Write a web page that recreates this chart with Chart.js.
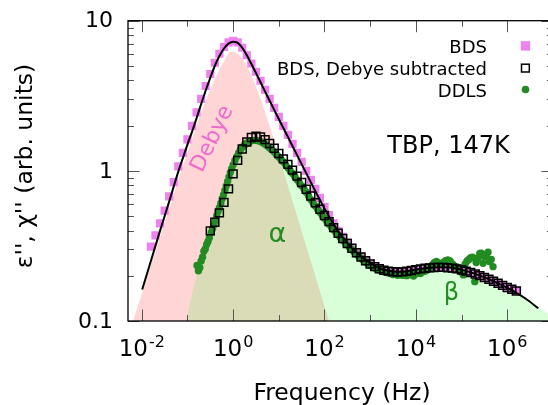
<!DOCTYPE html>
<html lang="en">
<head>
<meta charset="UTF-8" />
<title>TBP, 147K</title>
<script src="https://cdn.jsdelivr.net/npm/chart.js"></script>
<style>
  html, body { margin: 0; padding: 0; background: #fff; overflow: hidden; width: 548px; height: 405px; }
  canvas { display: block; }
</style>
</head>
<body>
<canvas id="c" width="560" height="405"></canvas>
<script>
// values, stored as log10(frequency) and log10(loss)
const bdsLogF = [-1.8, -1.7, -1.6, -1.5, -1.4, -1.3, -1.2, -1.1, -1.0, -0.9,
  -0.8, -0.7, -0.6, -0.5, -0.4, -0.3, -0.2, -0.1, 0.0, 0.1,
  0.2, 0.3, 0.4, 0.5, 0.6, 0.7, 0.8, 0.9, 1.0, 1.1,
  1.2, 1.3, 1.4, 1.5, 1.6, 1.7, 1.8, 1.9, 2.0, 2.1,
  2.2, 2.3, 2.4, 2.5, 2.6, 2.7, 2.8, 2.9, 3.0, 3.1,
  3.2, 3.3, 3.4, 3.5, 3.6, 3.7, 3.8, 3.9, 4.0, 4.1,
  4.2, 4.3, 4.4, 4.5, 4.6, 4.7, 4.8, 4.9, 5.0, 5.1,
  5.2, 5.3, 5.4, 5.5, 5.6, 5.7, 5.8, 5.9, 6.0, 6.1, 6.2];
const bdsLogE = [-0.505, -0.43, -0.35, -0.265, -0.17, -0.075, 0.03, 0.12, 0.21, 0.30,
  0.39, 0.48, 0.565, 0.645, 0.72, 0.78, 0.825, 0.855, 0.865, 0.855,
  0.82, 0.77, 0.715, 0.66, 0.6, 0.54, 0.48, 0.42, 0.36, 0.30,
  0.24, 0.18, 0.12, 0.06, 0.0, -0.06, -0.12, -0.18, -0.24, -0.295,
  -0.35, -0.40, -0.44, -0.477, -0.512, -0.543, -0.572, -0.598, -0.62, -0.638,
  -0.652, -0.662, -0.668, -0.672, -0.674, -0.673, -0.669, -0.664, -0.658, -0.653,
  -0.649, -0.646, -0.644, -0.643, -0.643, -0.645, -0.648, -0.653, -0.66, -0.668,
  -0.677, -0.687, -0.698, -0.71, -0.722, -0.735, -0.749, -0.763, -0.777, -0.789, -0.80];

const subLogF = [-0.5, -0.4, -0.3, -0.2, -0.1, 0.0, 0.1, 0.2, 0.3, 0.4,
  0.5, 0.6, 0.7, 0.8, 0.9, 1.0, 1.1, 1.2, 1.3, 1.4,
  1.5, 1.6, 1.7, 1.8, 1.9, 2.0, 2.1, 2.2, 2.3, 2.4,
  2.5, 2.6, 2.7, 2.8, 2.9, 3.0, 3.1, 3.2, 3.3, 3.4,
  3.5, 3.6, 3.7, 3.8, 3.9, 4.0, 4.1, 4.2, 4.3, 4.4,
  4.5, 4.6, 4.7, 4.8, 4.9, 5.0, 5.1, 5.2, 5.3, 5.4,
  5.5, 5.6, 5.7, 5.8, 5.9, 6.0, 6.1, 6.2];
const subLogE = [-0.40, -0.342, -0.28, -0.21, -0.12, -0.02, 0.07, 0.145, 0.192, 0.222,
  0.23, 0.225, 0.208, 0.182, 0.15, 0.115, 0.08, 0.043, 0.005, -0.035,
  -0.078, -0.122, -0.168, -0.213, -0.256, -0.297, -0.338, -0.378, -0.416, -0.451,
  -0.484, -0.516, -0.546, -0.574, -0.599, -0.62, -0.638, -0.652, -0.662, -0.668,
  -0.672, -0.674, -0.673, -0.669, -0.664, -0.658, -0.653, -0.649, -0.646, -0.644,
  -0.643, -0.643, -0.645, -0.648, -0.653, -0.66, -0.668, -0.677, -0.687, -0.698,
  -0.71, -0.722, -0.735, -0.749, -0.763, -0.777, -0.789, -0.80];

const ddlsLogF = [-0.79, -0.76, -0.73, -0.70, -0.67, -0.64, -0.61, -0.58, -0.55, -0.52,
  -0.48, -0.45, -0.42, -0.39, -0.36, -0.33, -0.30, -0.27, -0.24, -0.21,
  -0.18, -0.15, -0.12, -0.09, -0.06, -0.03, 0.00, 0.04, 0.08, 0.12,
  0.16, 0.20, 0.25, 0.30, 0.35, 0.40, 0.45, 0.50, 0.55, 0.60,
  0.65, 0.70, 0.75, 0.80, 0.85, 0.90, 0.95, 1.00, 1.05, 1.10,
  1.15, 1.20, 1.25, 1.30, 1.35, 1.40, 1.45, 1.50, 1.55, 1.60,
  1.65, 1.70, 1.75, 1.80, 1.85, 1.90, 1.95, 2.00, 2.05, 2.10,
  2.15, 2.20, 2.25, 2.30, 2.35, 2.40, 2.45, 2.50, 2.55, 2.60,
  2.65, 2.70, 2.75, 2.80, 2.85, 2.90, 2.95, 3.00, 3.05, 3.10,
  3.15, 3.20, 3.25, 3.30, 3.35, 3.40, 3.45, 3.50, 3.55, 3.60,
  3.65, 3.70, 3.75, 3.80, 3.85, 3.90, 3.95, 4.00, 4.05, 4.10,
  4.15, 4.20, 4.25, 4.30, 4.35, 4.40, 4.45, 4.50, 4.55, 4.60,
  4.65, 4.70, 4.75, 4.80, 4.85, 4.90, 4.95, 5.00, 5.04, 5.08,
  5.12, 5.16, 5.20, 5.24, 5.29, 5.32, 5.36, 5.40, 5.43, 5.47,
  5.50, 5.54, 5.58, 5.61, 5.65, 5.69];
const ddlsLogE = [-0.63, -0.665, -0.645, -0.60, -0.575, -0.535, -0.52, -0.49, -0.47, -0.445,
  -0.41, -0.385, -0.36, -0.33, -0.30, -0.27, -0.245, -0.215, -0.185, -0.16,
  -0.13, -0.10, -0.07, -0.04, -0.01, 0.015, 0.04, 0.07, 0.095, 0.12,
  0.14, 0.158, 0.172, 0.185, 0.193, 0.20, 0.203, 0.203, 0.20, 0.195,
  0.187, 0.177, 0.165, 0.152, 0.14, 0.125, 0.108, 0.092, 0.075, 0.06,
  0.04, 0.02, 0.0, -0.018, -0.038, -0.06, -0.08, -0.10, -0.12, -0.143,
  -0.166, -0.19, -0.212, -0.234, -0.255, -0.275, -0.295, -0.315, -0.335, -0.355,
  -0.374, -0.393, -0.41, -0.428, -0.445, -0.462, -0.478, -0.494, -0.51, -0.525,
  -0.54, -0.555, -0.568, -0.582, -0.595, -0.607, -0.618, -0.628, -0.638, -0.647,
  -0.655, -0.662, -0.668, -0.672, -0.676, -0.68, -0.684, -0.69, -0.688, -0.695,
  -0.69, -0.695, -0.69, -0.698, -0.688, -0.692, -0.70, -0.685, -0.68, -0.684,
  -0.672, -0.668, -0.66, -0.645, -0.63, -0.612, -0.604, -0.615, -0.622, -0.61,
  -0.598, -0.593, -0.60, -0.62, -0.635, -0.64, -0.66, -0.675, -0.693, -0.62,
  -0.60, -0.59, -0.578, -0.575, -0.738, -0.61, -0.58, -0.55, -0.548, -0.615,
  -0.57, -0.56, -0.542, -0.604, -0.59, -0.638];

// total fit curve (black line)
const fitLogF = [-1.99, -1.8, -1.6, -1.4, -1.2, -1.1, -1.0, -0.9, -0.8, -0.7,
  -0.6, -0.5, -0.4, -0.3, -0.2, -0.1, 0.0, 0.1, 0.2, 0.3,
  0.4, 0.5, 0.6, 0.7, 0.8, 0.9, 1.0, 1.2, 1.4, 1.6,
  1.8, 2.0, 2.2, 2.4, 2.6, 2.8, 3.0, 3.2, 3.4, 3.6,
  3.8, 4.0, 4.2, 4.4, 4.6, 4.8, 5.0, 5.2, 5.4, 5.6,
  5.8, 6.0, 6.2, 6.4, 6.68];
const fitLogE = [-0.79, -0.60, -0.40, -0.205, -0.005, 0.085, 0.175, 0.26, 0.35, 0.445,
  0.535, 0.62, 0.70, 0.765, 0.815, 0.848, 0.86, 0.852, 0.82, 0.77,
  0.712, 0.652, 0.59, 0.528, 0.467, 0.406, 0.345, 0.225, 0.105, -0.015,
  -0.135, -0.25, -0.355, -0.445, -0.515, -0.57, -0.615, -0.648, -0.665, -0.672,
  -0.668, -0.657, -0.648, -0.643, -0.642, -0.646, -0.658, -0.676, -0.698, -0.722,
  -0.75, -0.78, -0.812, -0.85, -0.915];

// Debye contribution (pink area)
const debyeLogF = [-2.19, -2.0, -1.8, -1.6, -1.4, -1.2, -1.0, -0.8, -0.6, -0.4,
  -0.2, -0.05, 0.1, 0.3, 0.5, 0.7, 0.9, 1.1, 1.3, 1.5, 1.7, 1.9, 2.0, 2.1];
const debyeLogE = [-1.0, -0.82, -0.63, -0.44, -0.25, -0.06, 0.12, 0.30, 0.465, 0.61,
  0.73, 0.795, 0.78, 0.70, 0.56, 0.39, 0.20, 0.0, -0.2, -0.4, -0.6, -0.8, -0.9, -1.0];

// alpha + beta contribution (green area)
const abLogF = [-1.03, -0.9, -0.8, -0.7, -0.6, -0.5, -0.4, -0.3, -0.2, -0.1,
  0.0, 0.1, 0.2, 0.3, 0.4, 0.5, 0.6, 0.7, 0.8, 0.9,
  1.0, 1.2, 1.4, 1.6, 1.8, 2.0, 2.2, 2.4, 2.6, 2.8,
  3.0, 3.2, 3.4, 3.6, 3.8, 4.0, 4.2, 4.4, 4.6, 4.8,
  5.0, 5.2, 5.4, 5.6, 5.8, 6.0, 6.2, 6.4, 6.6, 6.8, 7.0];
const abLogE = [-1.0, -0.82, -0.70, -0.60, -0.51, -0.43, -0.355, -0.28, -0.20, -0.12,
  -0.035, 0.05, 0.12, 0.165, 0.19, 0.197, 0.19, 0.175, 0.153, 0.125,
  0.095, 0.025, -0.055, -0.145, -0.235, -0.315, -0.393, -0.462, -0.525, -0.578,
  -0.622, -0.653, -0.669, -0.675, -0.671, -0.66, -0.65, -0.645, -0.644, -0.648,
  -0.66, -0.678, -0.70, -0.724, -0.752, -0.782, -0.815, -0.85, -0.89, -0.93, -0.97];

const xMajorExp = [-2, 0, 2, 4, 6];
const xMinorExp = [-1, 1, 3, 5];
const yMajor = [0.1, 1, 10];
const yMajorText = ['0.1', '1', '10'];
const yMinor = [0.2, 0.3, 0.4, 0.5, 0.6, 0.7, 0.8, 0.9, 2, 3, 4, 5, 6, 7, 8, 9];

const FONT = '"DejaVu Sans", sans-serif';
const VIOLET = 'rgb(238,130,238)';
const GREEN = 'rgb(34,139,34)';

const toPts = (lf, le) => lf.map((f, i) => ({ x: 10 ** f, y: 10 ** le[i] }));

function drawSup(ctx, px, exp) {
  ctx.font = '23px ' + FONT;
  const w1 = ctx.measureText('10').width;
  ctx.font = '16px ' + FONT;
  const w2 = ctx.measureText(exp).width;
  const x0 = px - (w1 + w2 + 1) / 2;
  ctx.textAlign = 'left';
  ctx.textBaseline = 'alphabetic';
  ctx.font = '23px ' + FONT;
  ctx.fillText('10', x0, 356);
  ctx.font = '16px ' + FONT;
  ctx.fillText(exp, x0 + w1 + 1, 347);
}

const decor = {
  id: 'decor',
  afterDraw(chart) {
    const { ctx, chartArea: a, scales: { x, y } } = chart;
    ctx.save();

    // inward ticks on all four sides
    ctx.strokeStyle = '#555';
    ctx.lineWidth = 1;
    ctx.beginPath();
    const xt = (e, len) => {
      const px = Math.round(x.getPixelForValue(10 ** e)) + 0.5;
      ctx.moveTo(px, a.bottom); ctx.lineTo(px, a.bottom - len);
      ctx.moveTo(px, a.top); ctx.lineTo(px, a.top + len);
    };
    const yt = (v, len) => {
      const py = Math.round(y.getPixelForValue(v)) + 0.5;
      ctx.moveTo(a.left, py); ctx.lineTo(a.left + len, py);
      ctx.moveTo(a.right, py); ctx.lineTo(a.right - len, py);
    };
    xMajorExp.forEach(e => xt(e, 11.5));
    xMinorExp.forEach(e => xt(e, 6));
    yMajor.forEach(v => yt(v, 11.5));
    yMinor.forEach(v => yt(v, 6));
    ctx.stroke();

    // frame
    ctx.strokeStyle = '#000';
    ctx.lineWidth = 1.3;
    ctx.strokeRect(a.left, a.top, a.right - a.left, a.bottom - a.top);

    // tick labels
    ctx.fillStyle = '#000';
    xMajorExp.forEach(e => drawSup(ctx, x.getPixelForValue(10 ** e), String(e)));
    ctx.font = '22px ' + FONT;
    ctx.textAlign = 'right';
    ctx.textBaseline = 'middle';
    yMajor.forEach((v, i) => ctx.fillText(yMajorText[i], 113, y.getPixelForValue(v) + 1));

    // axis titles
    ctx.font = '23.5px ' + FONT;
    ctx.textAlign = 'center';
    ctx.textBaseline = 'alphabetic';
    ctx.fillText('Frequency (Hz)', 342, 400);
    ctx.save();
    ctx.translate(32, 166);
    ctx.rotate(-Math.PI / 2);
    ctx.fillText("\u03b5'', \u03c7'' (arb. units)", 0, 0);
    ctx.restore();

    // sample label
    ctx.font = '24px ' + FONT;
    ctx.fillText('TBP, 147K', 448.5, 153);

    // area labels
    ctx.fillStyle = GREEN;
    ctx.font = '27px ' + FONT;
    ctx.fillText('\u03b1', 277.5, 241.5);
    ctx.font = '24px ' + FONT;
    ctx.fillText('\u03b2', 451.5, 300);
    ctx.save();
    ctx.translate(212.5, 139);
    ctx.rotate(-64 * Math.PI / 180);
    ctx.fillStyle = 'rgb(240,105,205)';
    ctx.font = '22px ' + FONT;
    ctx.textBaseline = 'middle';
    ctx.fillText('Debye', 0, 0);
    ctx.restore();

    // key
    ctx.fillStyle = '#000';
    ctx.font = '18px ' + FONT;
    ctx.textAlign = 'right';
    ctx.fillText('BDS', 487, 52.5);
    ctx.fillText('BDS, Debye subtracted', 487, 75);
    ctx.fillText('DDLS', 487, 96.5);
    ctx.fillStyle = VIOLET;
    ctx.fillRect(520.8, 41.2, 9.4, 9.4);
    ctx.strokeStyle = '#000';
    ctx.lineWidth = 1.5;
    ctx.strokeRect(521.5, 64.2, 7.8, 7.8);
    ctx.fillStyle = GREEN;
    ctx.beginPath();
    ctx.arc(525.5, 89.5, 3.8, 0, Math.PI * 2);
    ctx.fill();

    ctx.restore();
  }
};

new Chart(document.getElementById('c'), {
  type: 'scatter',
  data: {
    datasets: [
      {
        label: 'BDS, Debye subtracted',
        data: toPts(subLogF, subLogE),
        pointStyle: 'rect',
        pointRadius: 5.6,
        borderColor: '#000',
        borderWidth: 1.5,
        backgroundColor: 'rgba(0,0,0,0)',
        order: 1
      },
      {
        label: 'fit',
        type: 'line',
        data: toPts(fitLogF, fitLogE),
        borderColor: '#000',
        borderWidth: 2,
        pointRadius: 0,
        cubicInterpolationMode: 'monotone',
        fill: false,
        order: 2
      },
      {
        label: 'DDLS',
        data: toPts(ddlsLogF, ddlsLogE),
        pointStyle: 'circle',
        pointRadius: 3.7,
        backgroundColor: GREEN,
        borderColor: GREEN,
        borderWidth: 0,
        order: 3
      },
      {
        label: 'BDS',
        data: toPts(bdsLogF, bdsLogE),
        pointStyle: 'rect',
        pointRadius: 5.8,
        backgroundColor: VIOLET,
        borderColor: VIOLET,
        borderWidth: 0,
        order: 4
      },
      {
        label: 'alpha + beta',
        type: 'line',
        data: toPts(abLogF, abLogE),
        fill: 'start',
        backgroundColor: 'rgba(0,255,0,0.15)',
        borderColor: 'rgba(0,0,0,0)',
        borderWidth: 0,
        pointRadius: 0,
        cubicInterpolationMode: 'monotone',
        order: 5
      },
      {
        label: 'Debye',
        type: 'line',
        data: toPts(debyeLogF, debyeLogE),
        fill: 'start',
        backgroundColor: 'rgba(255,0,0,0.165)',
        borderColor: 'rgba(0,0,0,0)',
        borderWidth: 0,
        pointRadius: 0,
        cubicInterpolationMode: 'monotone',
        order: 6
      }
    ]
  },
  options: {
    responsive: false,
    animation: false,
    events: [],
    layout: { padding: { left: 128, right: 3, top: 20.7, bottom: 84 } },
    scales: {
      x: { type: 'logarithmic', min: 0.005, max: 1e7, display: false },
      y: { type: 'logarithmic', min: 0.1, max: 10, display: false }
    },
    plugins: {
      legend: { display: false },
      tooltip: { enabled: false }
    }
  },
  plugins: [decor]
});
</script>
</body>
</html>
